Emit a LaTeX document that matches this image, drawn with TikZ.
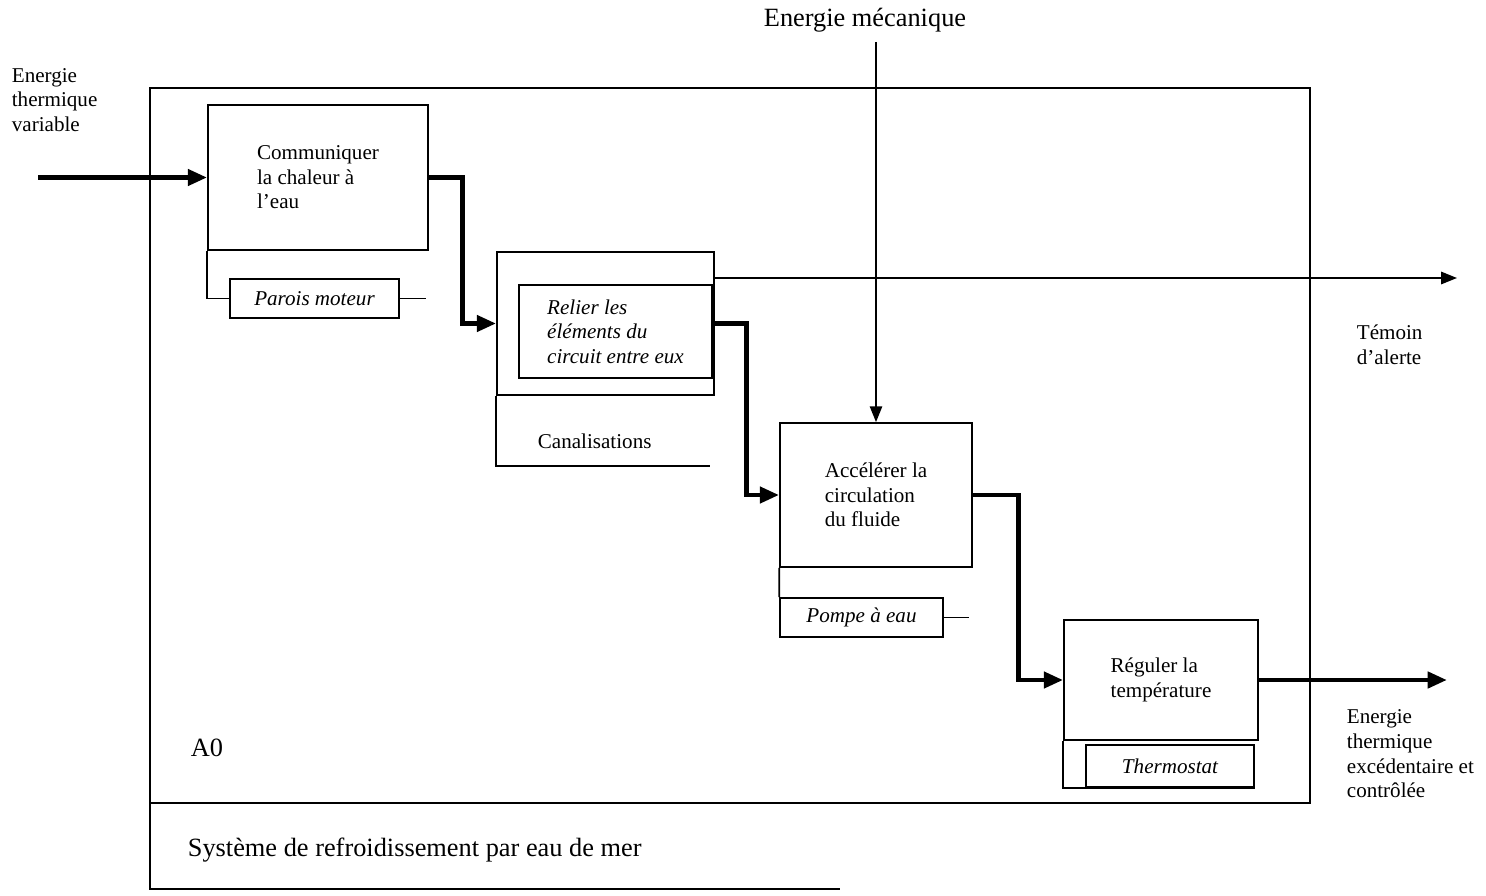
\documentclass[tikz,border=0pt]{standalone}
\usepackage{fontspec}
\setmainfont{Liberation Serif}
\usetikzlibrary{arrows.meta}
\begin{document}
\begin{tikzpicture}[x=0.02cm, y=-0.02cm, line width=1pt,
    boite/.style={draw, inner sep=0pt, align=left, font=\fontsize{12}{14}\selectfont},
    support/.style={draw, inner sep=0pt, font=\fontsize{12}{14}\selectfont\itshape},
    texte/.style={align=left, inner sep=0pt, font=\fontsize{12}{14}\selectfont},
    titre/.style={inner sep=0pt, font=\fontsize{15}{18}\selectfont},
    flux/.style={line width=2.8pt, -{Triangle[length=11pt,width=9pt]}},
    fleche/.style={line width=1pt, -{Triangle[length=9pt,width=7pt]}}]

    \useasboundingbox (0,0) rectangle (1486,895);

    % Cadre du systeme et cartouche
    \draw (150,88) rectangle (1310,803);
    \draw (150,803) -- (150,889) -- (840,889);
    \node[titre, anchor=west] (a0_node) at (190,748) {A0};
    \node[titre, anchor=west] (sys_node) at (187,850) {Système de refroidissement par eau de mer};

    % Fonctions, disposees en escalier
    \node[boite, minimum width=4.4cm, minimum height=2.9cm] (comm_node) at (318,177.5)
        {Communiquer\\la chaleur à\\l'eau};
    \node[draw, minimum width=4.34cm, minimum height=2.86cm] (relier_node) at (605.5,323.5) {};
    \node[support, align=left, minimum width=3.86cm, minimum height=1.86cm] (relier_txt) at (615.5,331.5)
        {Relier les\\éléments du\\circuit entre eux};
    \node[boite, minimum width=3.84cm, minimum height=2.88cm] (accel_node) at (876,495)
        {Accélérer la\\circulation\\du fluide};
    \node[boite, minimum width=3.88cm, minimum height=2.4cm] (regul_node) at (1161,680)
        {Réguler la\\température};

    % Supports
    \node[support, minimum width=3.38cm, minimum height=0.78cm] (parois_node) at (314.5,298.5) {Parois moteur};
    \node[texte, anchor=west] (canal_node) at (537,441) {Canalisations};
    \node[support, minimum width=3.26cm, minimum height=0.78cm] (pompe_node) at (861.5,617.5) {Pompe à eau};
    \node[support, minimum width=3.36cm, minimum height=0.84cm] (thermo_node) at (1170,766) {Thermostat};

    \draw (comm_node.south west) |- (parois_node.west);
    \draw (parois_node.east) -- ++(26,0);
    \draw (relier_node.south west) -- ++(0,70) -- ++(214,0);
    \draw (accel_node.south west) -- (pompe_node.north west);
    \draw (pompe_node.east) -- ++(25,0);
    \draw (regul_node.south west) |- (thermo_node.south east);

    % Entrees et sorties
    \node[texte, anchor=west] (entree_txt) at (11,100) {Energie\\thermique\\variable};
    \coordinate (entree) at (38,177.5);
    \node[titre] (meca_node) at (865,20) {Energie mécanique};
    \coordinate (meca_debut) at (876,42);
    \node[texte, anchor=west] (temoin_txt) at (1356,345) {Témoin\\d'alerte};
    \coordinate (temoin_fin) at (1457,278);
    \node[texte, anchor=west] (sortie_txt) at (1346,754) {Energie\\thermique\\excédentaire et\\contrôlée};
    \coordinate (sortie) at (1447,680);

    \draw[flux] (entree) -- (comm_node.west);
    \draw[flux] (comm_node.east) -- ++(34,0) |- (relier_node.west);
    \draw[flux] (relier_node.east) -- ++(32,0) |- (accel_node.west);
    \draw[flux] (accel_node.east) -- ++(46,0) |- (regul_node.west);
    \draw[flux] (regul_node.east) -- (sortie);
    \draw[fleche] (meca_debut) -- (accel_node.north);
    \draw[fleche] (relier_node.east |- temoin_fin) -- (temoin_fin);
\end{tikzpicture}
\end{document}
